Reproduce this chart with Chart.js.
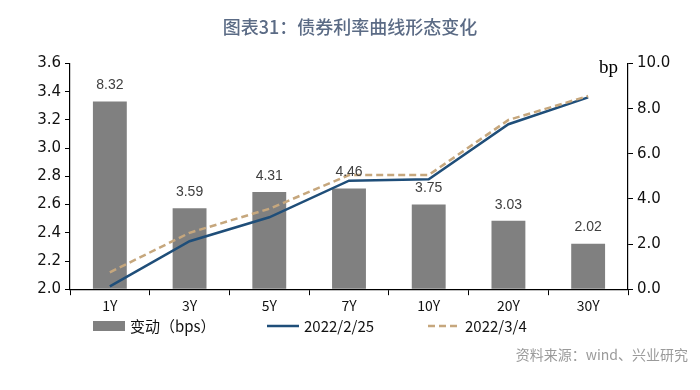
<!DOCTYPE html>
<html>
<head>
<meta charset="utf-8">
<script src="https://cdn.jsdelivr.net/npm/chart.js@4/dist/chart.umd.min.js"></script>
<style>
  body { margin: 0; background: #fff; }
  #wrap { width: 700px; height: 390px; position: relative; }
</style>
</head>
<body>
<div id="wrap"><canvas id="curveChart"></canvas></div>
<script>
const categories = ["1Y", "3Y", "5Y", "7Y", "10Y", "20Y", "30Y"];
const changeBps = [8.32, 3.59, 4.31, 4.46, 3.75, 3.03, 2.02];
const yield0225 = [2.02, 2.34, 2.51, 2.77, 2.78, 3.17, 3.36];
const yield0304 = [2.12, 2.40, 2.57, 2.81, 2.81, 3.20, 3.37];

const legendX = [93, 267, 428]; // left edge of each legend swatch
const sourceText = "资料来源：wind、兴业研究";

// bar value labels, "bp" unit, legend row and source note
const extras = {
    id: "extras",
    afterDatasetsDraw(chart) {
        const ctx = chart.ctx;
        const meta = chart.getDatasetMeta(0);
        ctx.save();
        ctx.font = "14px 'Liberation Sans'";
        ctx.fillStyle = "#404040";
        ctx.textAlign = "center";
        ctx.textBaseline = "bottom";
        meta.data.forEach((bar, i) => {
            ctx.fillText(changeBps[i].toFixed(2), bar.x, bar.y - 9);
        });
        const yR = chart.scales.yR;
        ctx.font = "19px 'Liberation Serif'";
        ctx.fillStyle = "#000";
        ctx.textAlign = "right";
        ctx.textBaseline = "middle";
        ctx.fillText("bp", yR.left - 10, yR.top + 4);
        ctx.restore();
    },
    afterDraw(chart) {
        const ctx = chart.ctx;
        const ly = 326;
        ctx.save();
        ctx.textBaseline = "middle";
        ctx.textAlign = "left";
        chart.data.datasets.forEach((ds, i) => {
            const x = legendX[i];
            ctx.save();
            if (ds.type === "bar") {
                ctx.fillStyle = ds.backgroundColor;
                ctx.fillRect(x, ly - 5, 32, 10);
            } else {
                ctx.strokeStyle = ds.borderColor;
                ctx.lineWidth = 2.5;
                ctx.setLineDash(ds.borderDash || []);
                ctx.beginPath();
                ctx.moveTo(x, ly);
                ctx.lineTo(x + 32, ly);
                ctx.stroke();
            }
            ctx.restore();
            ctx.font = "15px 'Noto Sans CJK SC'";
            ctx.fillStyle = "#111";
            ctx.fillText(ds.label, x + 37, ly);
        });
        ctx.font = "14px 'Noto Sans CJK SC'";
        ctx.fillStyle = "#9a9a9a";
        ctx.textAlign = "right";
        ctx.fillText(sourceText, 688, 355);
        ctx.restore();
    },
};

new Chart(document.getElementById("curveChart"), {
    data: {
        labels: categories,
        datasets: [
            {
                type: "bar",
                label: "变动（bps）",
                data: changeBps,
                yAxisID: "yR",
                backgroundColor: "#808080",
                barPercentage: 0.85,
                categoryPercentage: 0.5,
                order: 3,
            },
            {
                type: "line",
                label: "2022/2/25",
                data: yield0225,
                yAxisID: "yL",
                borderColor: "#1f4e79",
                backgroundColor: "#1f4e79",
                borderWidth: 2.5,
                pointRadius: 0,
                tension: 0,
                order: 2,
            },
            {
                type: "line",
                label: "2022/3/4",
                data: yield0304,
                yAxisID: "yL",
                borderColor: "#c6a77d",
                backgroundColor: "#c6a77d",
                borderWidth: 2.5,
                borderDash: [7, 4],
                pointRadius: 0,
                tension: 0,
                order: 1,
            },
        ],
    },
    options: {
        responsive: true,
        maintainAspectRatio: false,
        animation: false,
        layout: { padding: { left: 0, right: 0, top: 0, bottom: 74 } },
        plugins: {
            tooltip: { enabled: false },
            legend: { display: false },
            title: {
                display: true,
                text: "图表31：债券利率曲线形态变化",
                color: "#5b6b85",
                font: { family: "'Noto Sans CJK SC'", size: 18, weight: "500" },
                padding: { top: 16, bottom: 26 },
            },
        },
        scales: {
            x: {
                offset: true,
                grid: {
                    offset: true,
                    drawOnChartArea: false,
                    color: "#000",
                    tickLength: 6,
                },
                border: { color: "#000", width: 1.2 },
                ticks: {
                    color: "#111",
                    font: { family: "'Noto Sans CJK SC'", size: 14 },
                    padding: 2,
                },
            },
            yL: {
                position: "left",
                min: 2.0,
                max: 3.6,
                ticks: {
                    stepSize: 0.2,
                    color: "#111",
                    font: { family: "'DejaVu Sans'", size: 15 },
                    padding: 4,
                    callback: (v) => v.toFixed(1),
                },
                grid: { drawOnChartArea: false, color: "#000", tickLength: 5 },
                border: { color: "#000", width: 1.2 },
                afterFit: (scale) => { scale.width = 70; },
            },
            yR: {
                position: "right",
                min: 0,
                max: 10,
                ticks: {
                    stepSize: 2,
                    color: "#111",
                    font: { family: "'DejaVu Sans'", size: 15 },
                    padding: 4,
                    callback: (v) => v.toFixed(1),
                },
                grid: { drawOnChartArea: false, color: "#000", tickLength: 5 },
                border: { color: "#000", width: 1.2 },
                afterFit: (scale) => { scale.width = 72; },
            },
        },
    },
    plugins: [extras],
});
</script>
</body>
</html>
